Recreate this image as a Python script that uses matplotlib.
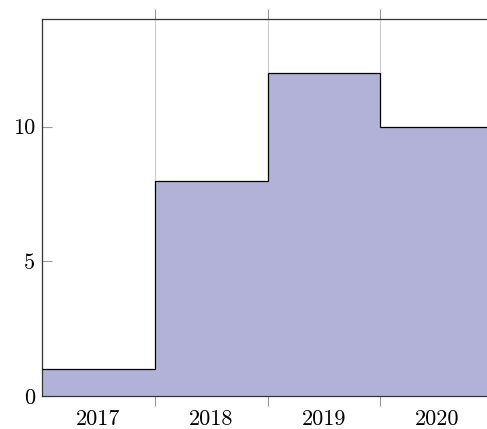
import matplotlib
matplotlib.use('Agg')
import matplotlib.pyplot as plt
import numpy as np

# ─── Data ───
years = ['2017', '2018', '2019', '2020']
counts = [1, 8, 12, 10]
yticks = [0, 5, 10]

plt.rcParams['font.family'] = ['cmr10', 'DejaVu Serif']
plt.rcParams['axes.formatter.use_mathtext'] = True

fig = plt.figure(figsize=(4.87, 4.29), dpi=100)
ax = fig.add_axes([42/487, 33/429, 451/487, 377/429])

x = np.arange(len(years))
edges = np.append(x - 0.5, x[-1] + 0.5)
ax.stairs(counts, edges, fill=True, color='#b2b2d8', linewidth=0, baseline=0, zorder=2)
ax.stairs(counts, edges, fill=False, color='black', linewidth=0.9, baseline=None, zorder=3)

ax.set_xlim(edges[0], edges[-1])
ax.set_ylim(0, 14)

ax.set_xticks(x)
ax.set_xticklabels(years, fontsize=16)
ax.set_xticks(edges[1:-1], minor=True)
ax.tick_params(axis='x', which='major', length=0, pad=10)
ax.tick_params(axis='x', which='minor', length=7, direction='out', color='#999999',
               top=True, bottom=True, width=0.8)
ax.grid(True, which='minor', axis='x', color='#cccccc', linewidth=0.8, zorder=1)

ax.set_yticks(yticks)
ax.set_yticklabels([str(v) for v in yticks], fontsize=16)
ax.tick_params(axis='y', which='major', length=7, direction='in', color='#999999',
               width=0.8, pad=5)

for s in ax.spines.values():
    s.set_color('#333333')
    s.set_linewidth(0.9)
ax.spines['bottom'].set_zorder(4)

plt.savefig('out.png', dpi=100)
